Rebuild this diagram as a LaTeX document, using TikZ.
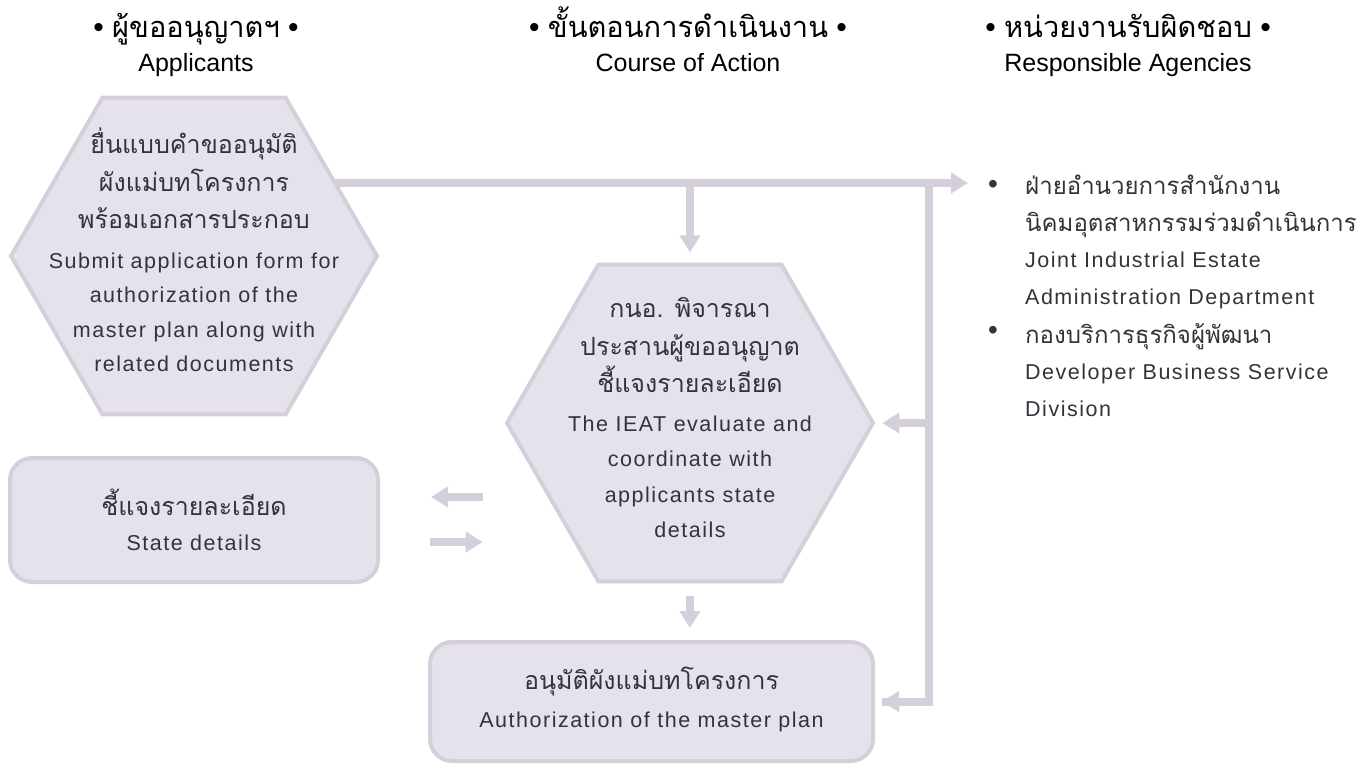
\documentclass[tikz,border=0pt]{standalone}
\usepackage{fontspec}
\setmainfont{Liberation Sans}
\newfontfamily\thai[Script=Thai]{Loma}
\newfontfamily\eng[LetterSpace=7]{Liberation Sans}
\usetikzlibrary{shapes.geometric,arrows.meta,backgrounds}
\definecolor{fillc}{RGB}{230,226,236}
\definecolor{edgec}{RGB}{212,207,218}
\definecolor{txtc}{RGB}{52,50,58}
\newcommand{\thx}[1]{{\thai\fontsize{25}{37}\selectfont #1}}
\newcommand{\thy}[1]{{\thai\fontsize{24}{37}\selectfont #1}}
\newcommand{\thh}[1]{{\thai\fontsize{29}{37}\selectfont #1}}
\begin{document}
\begin{tikzpicture}[x=1pt,y=-1pt,
  hexa/.style={regular polygon, regular polygon sides=6, minimum size=366pt, inner sep=0pt, fill=fillc, draw=edgec, line width=4pt},
  rbox/.style={rectangle, rounded corners=22pt, fill=fillc, draw=edgec, line width=4pt, inner sep=0pt},
  body/.style={align=center, text=txtc, inner sep=0pt, font=\eng\fontsize{21.5}{34.5}\selectfont},
  lst/.style={align=left, anchor=west, text=txtc, inner sep=0pt, font=\eng\fontsize{21.5}{36.7}\selectfont},
  bul/.style={text=txtc, inner sep=0pt, font=\fontsize{28}{30}\selectfont},
  head/.style={anchor=base, text=black, inner sep=0pt, font=\fontsize{25}{35}\selectfont},
  conn/.style={draw=edgec, line width=8pt},
  arr/.style={conn, -{Triangle[length=17pt,width=20pt]}}
]
\useasboundingbox (0,0) rectangle (1372,765);

% headers
\node[head] (hA) at (196,38) {\fontsize{30}{35}\selectfont• \thh{ผู้ขออนุญาตฯ} •};
\node[head] (hA2) at (196,72) {Applicants};
\node[head] (hB) at (688,38) {\fontsize{30}{35}\selectfont• \thh{ขั้นตอนการดำเนินงาน} •};
\node[head] (hB2) at (688,72) {Course of Action};
\node[head] (hC) at (1128,38) {\fontsize{30}{35}\selectfont• \thh{หน่วยงานรับผิดชอบ} •};
\node[head] (hC2) at (1128,72) {Responsible Agencies};

% shapes
\node[hexa] (h1) at (194,256) {};
\node[body] (t1) at ([yshift=6pt]h1.center) {\thx{ยื่นแบบคำขออนุมัติ}\\[3pt]\thx{ผังแม่บทโครงการ}\\[3pt]\thx{พร้อมเอกสารประกอบ}\\[5pt]Submit application form for\\authorization of the\\master plan along with\\related documents};

\node[hexa] (h2) at (690,423) {};
\node[body] (t2) at ([yshift=5pt]h2.center) {\thx{กนอ. พิจารณา}\\[3pt]\thx{ประสานผู้ขออนุญาต}\\[3pt]\thx{ชี้แจงรายละเอียด}\\[4pt]The IEAT evaluate and\\[1pt]coordinate with\\[1pt]applicants state\\[1pt]details};

\node[rbox, minimum width=368pt, minimum height=124pt] (b2) at (194,520) {};
\node[body] (t3) at (b2.center) {\thx{ชี้แจงรายละเอียด}\\State details};

\node[rbox, minimum width=443pt, minimum height=119pt] (b3) at (651.5,701.5) {};
\node[body] (t4) at ([yshift=2pt]b3.center) {\thx{อนุมัติผังแม่บทโครงการ}\\[4pt]Authorization of the master plan};

% agencies
\node[bul] (u1) at (993,187) {•};
\node[lst] (ag1) at (1025,242) {\thy{ฝ่ายอำนวยการสำนักงาน}\\\thy{นิคมอุตสาหกรรมร่วมดำเนินการ}\\Joint Industrial Estate\\Administration Department};
\node[bul] (u2) at (993,333) {•};
\node[lst] (ag2) at (1025,370) {\thy{กองบริการธุรกิจผู้พัฒนา}\\Developer Business Service\\Division};

\coordinate (tip) at (968,183);
\coordinate (j) at (928.5,183);

\begin{scope}[on background layer]
  \draw[arr] (h1.center |- tip) -- (tip);
  \draw[conn] (j) -- (j |- b3.east) -- ([xshift=7pt]b3.east);
\end{scope}
\draw[arr, shorten >=7pt] (j |- b3.east) -- (b3.east);
\draw[arr, shorten >=7pt] (j |- h2.east) -- (h2.east);
\draw[arr, shorten >=10pt] (h2.north |- tip) -- (h2.north);
\draw[arr, shorten <=12pt, shorten >=12pt] (h2.south) -- (h2.south |- b3.north);
\draw[arr, shorten <=22pt, shorten >=51pt] (h2.west |- 0,497) -- (b2.east |- 0,497);
\draw[arr, shorten <=50pt, shorten >=22pt] (b2.east |- 0,542) -- (h2.west |- 0,542);
\end{tikzpicture}
\end{document}
